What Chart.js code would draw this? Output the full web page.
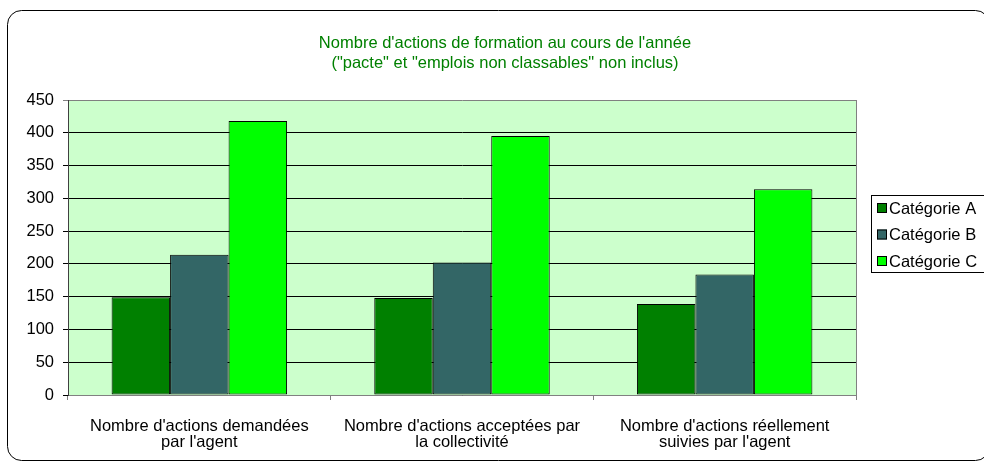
<!DOCTYPE html>
<html>
<head>
<meta charset="utf-8">
<script src="https://cdn.jsdelivr.net/npm/chart.js@4/dist/chart.umd.min.js"></script>
<style>
  html, body { margin: 0; padding: 0; background: #fff; }
  #wrap { width: 984px; height: 466px; position: relative; }
</style>
</head>
<body>
<div id="wrap"><canvas id="actionsChart" width="984" height="466"></canvas></div>
<script>
// Données du graphique
const categories = [
    ["Nombre d'actions demandées", "par l'agent"],
    ["Nombre d'actions acceptées par", "la collectivité"],
    ["Nombre d'actions réellement", "suivies par l'agent"]
];
const seriesNames = ['Catégorie A', 'Catégorie B', 'Catégorie C'];
const catA = [149, 148, 139];
const catB = [214, 202, 184];
const catC = [418, 395, 314];
const titre = ["Nombre d'actions de formation au cours de l'année", "(\"pacte\" et \"emplois non classables\" non inclus)"];

const couleurs = ['#008000', '#336666', '#00FF00'];
const POLICE = '"Liberation Sans", Arial, sans-serif';
const TAILLE = 16.5;

// cadre arrondi, fond vert pâle de la zone de tracé et titre
const fondPlugin = {
    id: 'fond',
    beforeDraw(chart) {
        const ctx = chart.ctx;
        const a = chart.chartArea;
        ctx.save();
        ctx.fillStyle = '#fff';
        ctx.fillRect(0, 0, chart.width, chart.height);
        ctx.strokeStyle = '#000';
        ctx.lineWidth = 1;
        ctx.beginPath();
        ctx.roundRect(7.5, 10.5, 982, 450, 14);
        ctx.stroke();
        ctx.fillStyle = '#CCFFCC';
        ctx.fillRect(a.left, a.top, a.right - a.left, a.bottom - a.top);
        ctx.strokeStyle = '#808080';
        ctx.beginPath();
        ctx.moveTo(Math.round(a.right) + 0.5, a.top);
        ctx.lineTo(Math.round(a.right) + 0.5, a.bottom);
        ctx.stroke();

        ctx.fillStyle = '#008000';
        ctx.font = TAILLE + 'px ' + POLICE;
        ctx.textAlign = 'center';
        ctx.textBaseline = 'alphabetic';
        titre.forEach((ligne, i) => ctx.fillText(ligne, 505, 48 + i * 19.5));
        ctx.restore();
    }
};

// légende encadrée à droite
const legendePlugin = {
    id: 'legende',
    afterDraw(chart) {
        const ctx = chart.ctx;
        const x = 871, y = 195, pas = 26.5;
        ctx.save();
        ctx.strokeStyle = '#000';
        ctx.lineWidth = 1;
        ctx.strokeRect(x + 0.5, y + 0.5, 130, 77);
        ctx.font = TAILLE + 'px ' + POLICE;
        ctx.textBaseline = 'middle';
        chart.data.datasets.forEach((ds, i) => {
            const cy = y + 13 + i * pas;
            ctx.fillStyle = ds.backgroundColor;
            ctx.fillRect(x + 6, cy - 5, 10, 10);
            ctx.strokeRect(x + 6.5, cy - 4.5, 9, 9);
            ctx.fillStyle = '#000';
            ctx.fillText(ds.label, x + 18, cy + 1);
        });
        ctx.restore();
    }
};

const valeurs = [catA, catB, catC];

new Chart(document.getElementById('actionsChart'), {
    type: 'bar',
    data: {
        labels: categories,
        datasets: seriesNames.map((nom, i) => ({
            label: nom,
            data: valeurs[i],
            backgroundColor: couleurs[i],
            borderColor: '#000',
            borderWidth: 1,
            borderSkipped: false,
            barPercentage: 1,
            categoryPercentage: 0.668
        }))
    },
    options: {
        responsive: false,
        animation: false,
        devicePixelRatio: 1,
        layout: { padding: { left: 0, right: 128, top: 100, bottom: 0 } },
        plugins: {
            legend: { display: false },
            tooltip: { enabled: false },
            title: { display: false }
        },
        scales: {
            x: {
                offset: true,
                afterFit: s => { s.height = 71; },
                grid: { drawOnChartArea: false, drawTicks: true, tickLength: 5, color: '#808080', offset: true },
                border: { color: '#808080' },
                ticks: {
                    color: '#000',
                    padding: 18,
                    maxRotation: 0,
                    autoSkip: false,
                    font: { family: POLICE, size: TAILLE, lineHeight: 1.0 }
                }
            },
            y: {
                min: 0,
                max: 450,
                afterFit: s => { s.width = 68; },
                ticks: {
                    stepSize: 50,
                    color: '#000',
                    padding: 9,
                    font: { family: POLICE, size: TAILLE }
                },
                grid: {
                    tickLength: 5,
                    color: c => (c.tick && c.tick.value === 450) ? '#808080' : '#000'
                },
                border: { color: '#404040' }
            }
        }
    },
    plugins: [fondPlugin, legendePlugin]
});
</script>
</body>
</html>
